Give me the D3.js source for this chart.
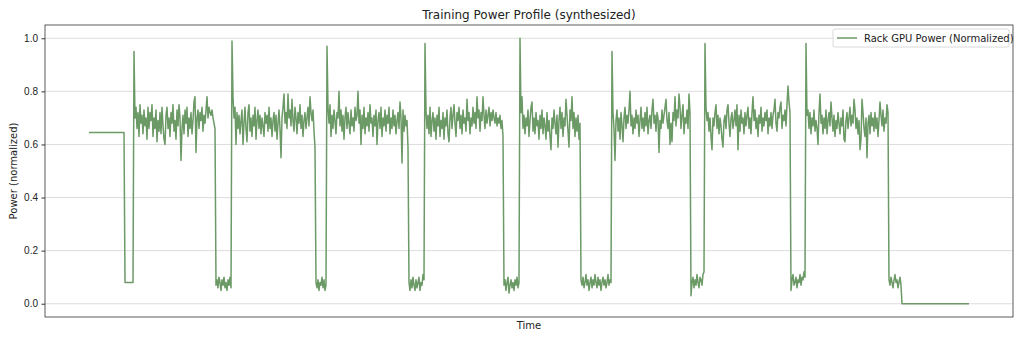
<!DOCTYPE html>
<meta charset="utf-8">
<style>
body { margin: 0; background: #fff; }
svg { font-family: "DejaVu Sans", sans-serif; }
.grid line { stroke: #d4d4d4; stroke-width: 0.8; }
.axis text { font-size: 10px; fill: #222; }
.axis line { stroke: #333; }
</style>
<svg width="1024" height="341"></svg>
<script src="https://d3js.org/d3.v7.min.js"></script>
<script>

// power in percent of max, one sample per time unit
var sampleStep = 1;
var seriesName = "Rack GPU Power (Normalized)";
var yTicks = [0, 0.2, 0.4, 0.6, 0.8, 1.0];

// idle, then short dip before training
var warmup = [
  64.5,64.5,64.5,64.5,64.5,64.5,64.5,64.5,64.5,64.5,64.5,64.5,
  64.5,64.5,64.5,64.5,64.5,64.5,64.5,64.5,64.5,64.5,64.5,64.5,
  64.5,64.5,64.5,64.5,64.5,64.5,64.5,64.5,64.5,64.5,64.5,64.5,
  8,8,8,8,8,8,8,8,8];

// each step: spike, compute plateau, checkpoint dip
var step1 = [95,
  70,74,66,72,63,75,68,71,64,73, 67,70,62,74,66,72,69,75,63,70,
  66,73,61,69,65,72,64,74,67,62, 60,71,74,66,70,63,72,68,75,65,
  69,62,73,67,75,70,54,66,71,64, 73,68,74,63,70,66,72,64,69,76,
  78,57,70,73,66,72,69,74,65,71, 68,73,78,70,74,72,71,73,70,68, 66,
  7,9,6,10,8,5,9,7,10,6,8,5,9,7,10,6];
var step2 = [99,
  78,70,74,60,72,66,71,64,69,73, 60,68,74,66,61,72,75,65,70,63,
  71,67,74,62,69,73,66,71,64,70, 67,63,72,68,71,65,74,66,70,63,
  69,72,65,71,62,68,73,66,55,70, 74,79,68,72,66,79,70,73,67,77,
  69,65,74,70,64,72,68,75,66,71, 63,69,72,66,70,74,67,78,72,69, 73,65,59,
  8,6,9,5,8,7,10,6,9,5,7];
var step3 = [97,
  74,68,75,63,71,66,73,69,64,72, 70,80,67,73,65,71,62,70,74,66,
  72,68,64,73,67,70,65,74,69,71, 80,68,73,60,71,66,74,64,70,67,
  72,65,75,68,70,63,71,67,73,60, 69,72,66,74,63,70,67,73,65,71,
  68,74,64,70,66,73,67,71,64,69, 72,66,76,70,53,73,65,71,67,69, 59,
  8,5,9,6,10,7,5,9,6,8,10,5,8,7,11,9];
var step4 = [98,
  73,66,71,64,74,63,69,72,65,70, 62,71,67,74,63,69,66,72,62,70,
  67,73,64,61,70,74,66,71,75,68, 63,72,69,74,66,71,64,73,68,70,
  65,77,69,72,64,70,67,74,68,72, 66,78,70,73,65,72,69,78,71,66,
  73,68,71,74,67,72,69,73,70,68, 72,67,70,68,71,66,69,63,
  7,9,5,8,10,4,7,9,6,8,5,9,7,10,6,8];
var step5 = [100,
  72,78,66,71,64,70,67,73,63,69, 74,76,65,70,64,72,67,69,62,71,
  66,73,64,70,67,62,72,65,69,63, 58,70,66,73,68,64,71,59,69,74,
  66,72,63,70,67,77,71,65,59,73, 69,78,66,72,63,70,65,71,62,68,
  9,7,10,6,8,11,7,9,5,8,10,6,9,7,11,8,6,10,7,9,5,8,10,7,9,6,8,11,7,9,8];
var step6 = [95,
  72,66,54,69,73,65,70,62,72,67, 61,70,74,66,71,68,73,80,67,71,
  64,70,66,73,68,71,63,69,74,66, 70,65,72,67,74,64,69,71,66,73,
  77,68,71,65,72,70,57,69,66,73, 68,71,74,77,69,66,72,60,68,61,
  72,69,78,67,73,70,79,74,66,71, 75,64,70,68,73,66,79,72,
  3,8,10,6,9,7,11,8,6,10,9,7,11,12];
var step7 = [98,
  74,69,72,65,70,63,58,70,67,72, 75,66,71,64,70,67,62,59,69,71,
  66,73,75,68,63,70,72,66,69,73, 67,75,58,71,65,73,68,70,64,72,
  67,71,74,66,70,64,72,78,69,73, 66,70,63,71,68,74,65,70,67,72,
  69,73,64,70,67,72,66,71,73,77, 68,65,72,70,74,76,66,71,69,73, 67,75,82,76,72,
  5,9,11,7,8,10,6,9,8,11,7,10,9,12,10];
var step8 = [98,
  71,73,66,72,64,70,67,73,65,69, 66,60,72,79,68,71,64,70,66,73,
  64,69,72,67,76,70,65,71,63,69, 66,72,68,64,70,67,73,62,61,69,
  72,66,70,74,67,71,68,77,73,66, 70,64,69,58,62,77,72,66,63,70,
  55,68,71,64,72,67,70,65,72,66, 70,63,69,76,71,67,73,65,70,68, 75,72,
  9,7,10,8,6,9,11,8,9,6,8,10,7];
var shutdown = [
  0,0,0,0,0,0,0,0,0,0,0,0,0,0,0,0,0,
  0,0,0,0,0,0,0,0,0,0,0,0,0,0,0,0,0,
  0,0,0,0,0,0,0,0,0,0,0,0,0,0,0,0,0,
  0,0,0,0,0,0,0,0,0,0,0,0,0,0,0,0,0];

var power = [].concat(warmup, step1, step2, step3, step4, step5, step6, step7, step8, shutdown);
var data = power.map(function(v, i) { return {t: i * sampleStep, v: v / 100}; });

var svg = d3.select("svg"),
    margin = {top: 25, right: 11, bottom: 24, left: 45},
    width = 1024 - margin.left - margin.right,
    height = 341 - margin.top - margin.bottom;

var tMax = d3.max(data, function(d) { return d.t; });
var x = d3.scaleLinear()
    .domain([-tMax * 0.05, tMax * 1.05])
    .range([0, width]);
var y = d3.scaleLinear()
    .domain([-0.05, 1.05])
    .range([height, 0]);

var g = svg.append("g")
    .attr("transform", "translate(" + margin.left + "," + margin.top + ")");

// horizontal grid
g.append("g")
    .attr("class", "grid")
  .selectAll("line").data(yTicks).enter().append("line")
    .attr("x1", 0).attr("x2", width)
    .attr("y1", function(d) { return y(d); })
    .attr("y2", function(d) { return y(d); });

var line = d3.line()
    .x(function(d) { return x(d.t); })
    .y(function(d) { return y(d.v); });

g.append("path")
    .datum(data)
    .attr("fill", "none")
    .attr("stroke", "#6c9a66")
    .attr("stroke-width", 1.5)
    .attr("stroke-linejoin", "round")
    .attr("d", line);

var yAxis = g.append("g")
    .attr("class", "axis")
    .call(d3.axisLeft(y).tickValues(yTicks).tickFormat(d3.format(".1f")).tickSize(3.5).tickPadding(3.5));
yAxis.select(".domain").remove();

// frame
g.append("rect")
    .attr("width", width).attr("height", height)
    .attr("fill", "none")
    .attr("stroke", "#333")
    .attr("stroke-width", 0.8);

svg.append("text")
    .attr("x", margin.left + width / 2).attr("y", 19)
    .attr("text-anchor", "middle")
    .style("font-size", "12px").style("fill", "#222")
    .text("Training Power Profile (synthesized)");

svg.append("text")
    .attr("x", margin.left + width / 2).attr("y", 329)
    .attr("text-anchor", "middle")
    .style("font-size", "10px").style("fill", "#222")
    .text("Time");

svg.append("text")
    .attr("transform", "translate(17," + (margin.top + height / 2) + ") rotate(-90)")
    .attr("text-anchor", "middle")
    .style("font-size", "10px").style("fill", "#222")
    .text("Power (normalized)");

// legend
var legend = svg.append("g").attr("transform", "translate(833,29)");
legend.append("rect")
    .attr("width", 176).attr("height", 18).attr("rx", 2)
    .attr("fill", "#fff").attr("fill-opacity", 0.8)
    .attr("stroke", "#d0d0d0").attr("stroke-width", 0.8);
legend.append("line")
    .attr("x1", 4).attr("x2", 24).attr("y1", 9).attr("y2", 9)
    .attr("stroke", "#6c9a66").attr("stroke-width", 1.5);
legend.append("text")
    .attr("x", 31).attr("y", 12.5)
    .style("font-size", "10px").style("fill", "#222")
    .text(seriesName);

</script>
